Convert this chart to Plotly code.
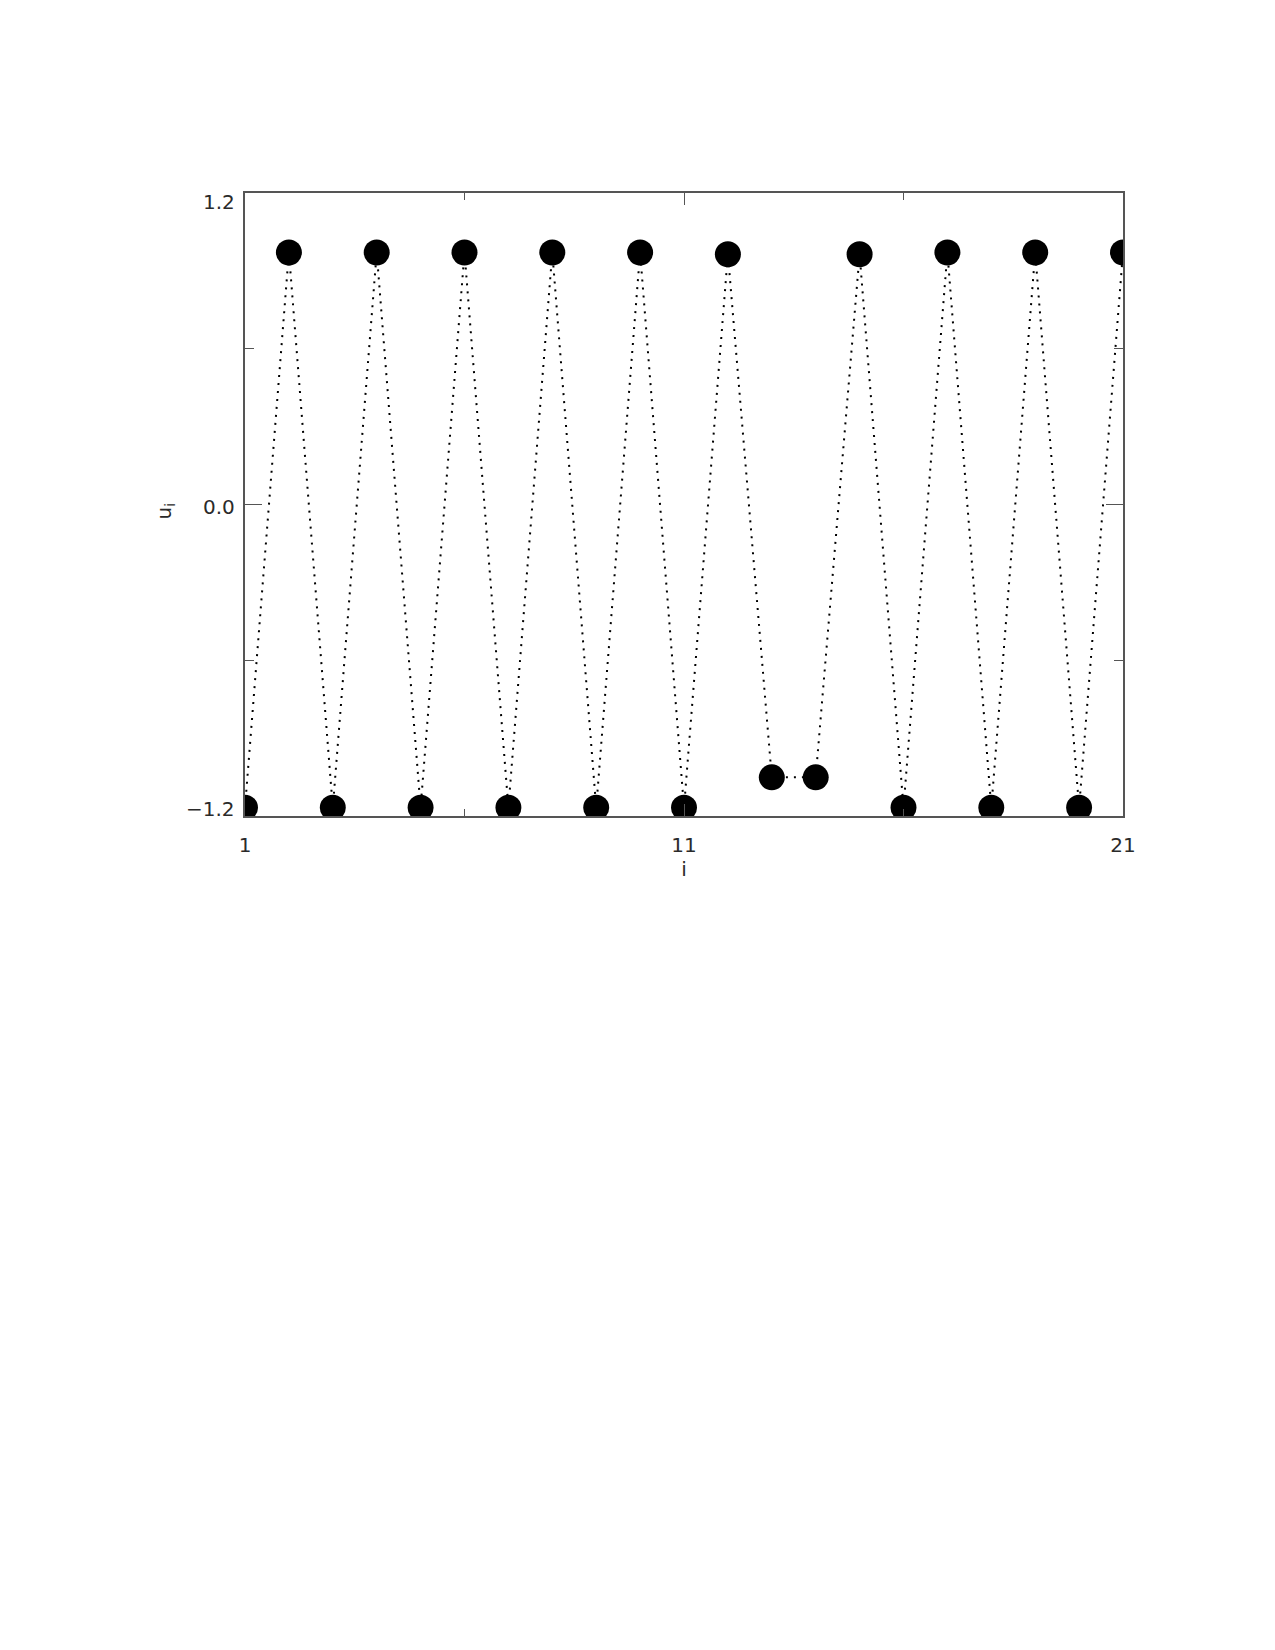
import plotly.graph_objects as go

# data
i_vals = list(range(1, 22))
u_vals = [-1.168, 0.971, -1.168, 0.971, -1.168, 0.971, -1.168, 0.971, -1.168, 0.971,
          -1.168, 0.964, -1.051, -1.051, 0.964, -1.168, 0.971, -1.168, 0.971, -1.168, 0.971]

x_major = [1, 11, 21]
x_minor = [6, 16]
y_major = [-1.2, 0.0, 1.2]
y_major_text = ["\u22121.2", "0.0", "1.2"]
y_label_shift = [7, -2, -9]
y_minor = [-0.6, 0.6]
y_title = "u<sub>i</sub>"
x_title = "i"

font_family = "DejaVu Sans, Liberation Sans, sans-serif"
ink = "#2a2a2a"
axis_col = "#555555"
fsize = 20

fig = go.Figure()
fig.add_trace(go.Scatter(
    x=i_vals, y=u_vals, mode="lines+markers",
    line=dict(color="black", width=2, dash="2px,6px"),
    marker=dict(color="black", size=26, line=dict(width=0)),
    cliponaxis=True, showlegend=False,
))

fig.update_layout(
    width=1259, height=1634,
    margin=dict(l=237, r=144, t=185, b=826, pad=0),
    paper_bgcolor="white", plot_bgcolor="white",
    font=dict(family=font_family, size=fsize, color=ink),
)

fig.update_xaxes(
    range=[1, 21], tickmode="array", tickvals=x_major, ticktext=[str(v) for v in x_major],
    ticks="inside", ticklen=12, tickwidth=1.2, tickcolor=axis_col,
    minor=dict(tickmode="array", tickvals=x_minor, ticks="inside", ticklen=7,
               tickwidth=1.2, tickcolor=axis_col, showgrid=False),
    showline=True, linecolor=axis_col, linewidth=1.5, mirror="ticks",
    showgrid=False, zeroline=False, ticklabelstandoff=10,
    title=dict(text=x_title, font=dict(size=fsize, color=ink), standoff=6),
)
fig.update_yaxes(
    range=[-1.2, 1.2], tickmode="array", tickvals=y_major, showticklabels=False,
    ticks="inside", ticklen=17, tickwidth=1.2, tickcolor=axis_col,
    minor=dict(tickmode="array", tickvals=y_minor, ticks="inside", ticklen=9,
               tickwidth=1.2, tickcolor=axis_col, showgrid=False),
    showline=True, linecolor=axis_col, linewidth=1.5, mirror="ticks",
    showgrid=False, zeroline=False,
)

# y tick labels placed like the original (IDL keeps end labels inside the axis span)
for yv, txt, ys in zip(y_major, y_major_text, y_label_shift):
    fig.add_annotation(x=0, xref="paper", y=yv, yref="y", text=txt, showarrow=False,
                       xanchor="right", yanchor="middle", xshift=-8, yshift=ys,
                       font=dict(size=fsize, color=ink, family=font_family))

# y axis title
fig.add_annotation(x=0, xref="paper", y=0.5, yref="paper", text=y_title, showarrow=False,
                   textangle=-90, xanchor="center", yanchor="middle", xshift=-81, yshift=-7,
                   font=dict(size=fsize, color=ink, family=font_family))

fig.write_html("out.html")
